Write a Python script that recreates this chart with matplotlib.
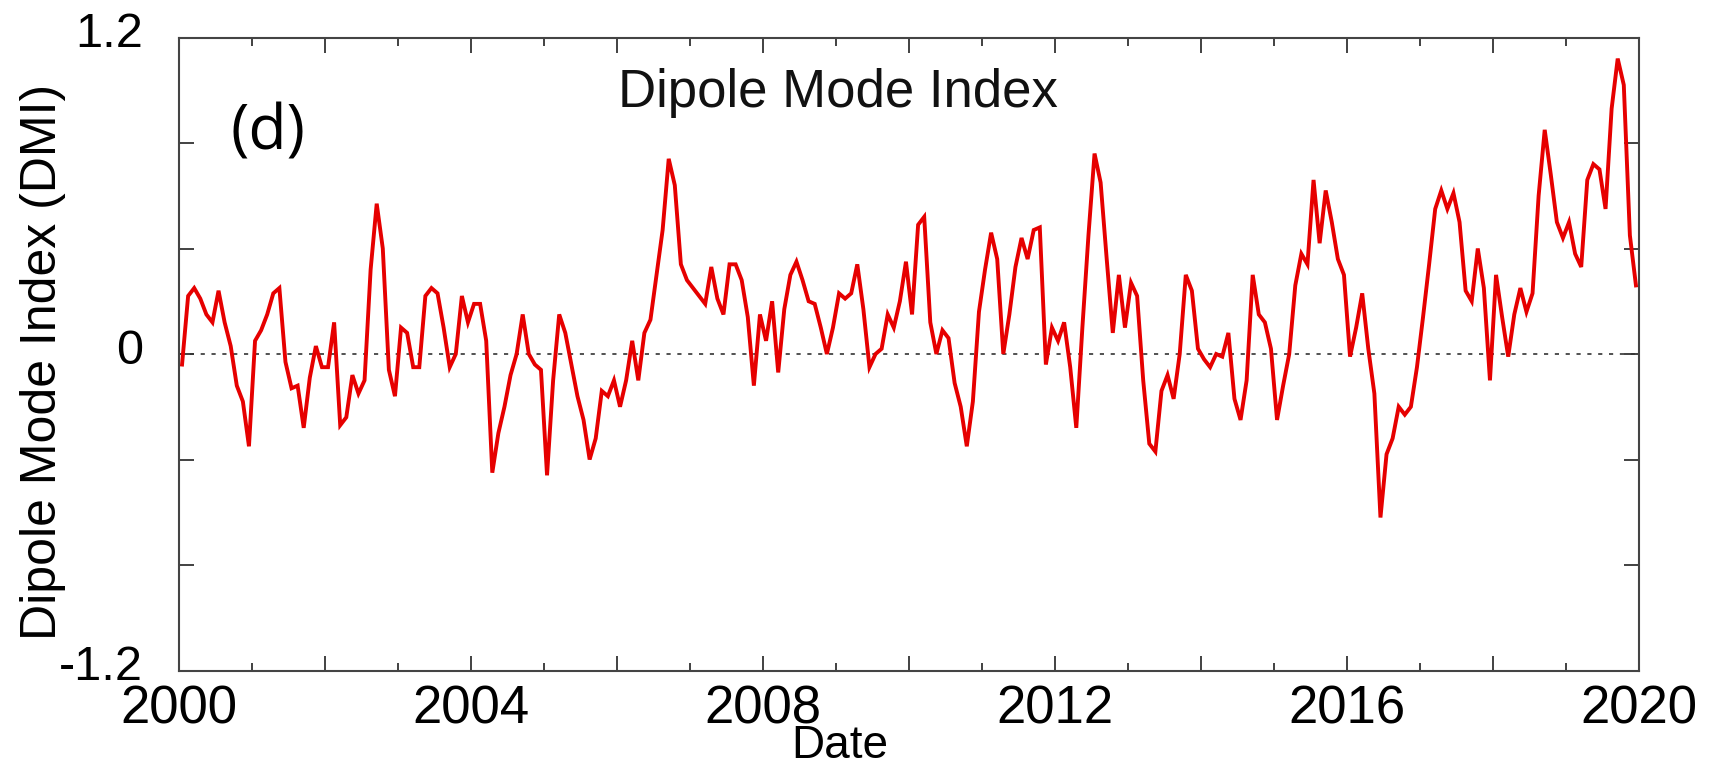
import numpy as np
import matplotlib
matplotlib.use("Agg")
import matplotlib.pyplot as plt
from matplotlib.ticker import FixedLocator
from matplotlib.transforms import ScaledTranslation

# Monthly Dipole Mode Index values, Jan 2000 - Dec 2019
dmi_2000 = [-0.04, 0.22, 0.25, 0.21, 0.15, 0.12, 0.24, 0.12, 0.03, -0.12, -0.18, -0.35]
dmi_2001 = [0.05, 0.09, 0.15, 0.23, 0.25, -0.03, -0.13, -0.12, -0.28, -0.09, 0.03, -0.05]
dmi_2002 = [-0.05, 0.12, -0.27, -0.24, -0.08, -0.15, -0.10, 0.32, 0.57, 0.40, -0.06, -0.16]
dmi_2003 = [0.10, 0.08, -0.05, -0.05, 0.22, 0.25, 0.23, 0.10, -0.05, 0.00, 0.22, 0.12]
dmi_2004 = [0.19, 0.19, 0.05, -0.45, -0.30, -0.20, -0.08, 0.00, 0.15, 0.00, -0.04, -0.06]
dmi_2005 = [-0.46, -0.10, 0.15, 0.08, -0.04, -0.16, -0.25, -0.40, -0.32, -0.14, -0.16, -0.10]
dmi_2006 = [-0.20, -0.10, 0.05, -0.10, 0.08, 0.13, 0.30, 0.47, 0.74, 0.64, 0.34, 0.28]
dmi_2007 = [0.25, 0.22, 0.19, 0.33, 0.21, 0.15, 0.34, 0.34, 0.28, 0.14, -0.12, 0.15]
dmi_2008 = [0.05, 0.20, -0.07, 0.17, 0.30, 0.35, 0.28, 0.20, 0.19, 0.10, 0.00, 0.10]
dmi_2009 = [0.23, 0.21, 0.23, 0.34, 0.17, -0.05, 0.00, 0.02, 0.15, 0.10, 0.20, 0.35]
dmi_2010 = [0.15, 0.49, 0.52, 0.12, 0.00, 0.09, 0.06, -0.11, -0.20, -0.35, -0.18, 0.16]
dmi_2011 = [0.32, 0.46, 0.36, 0.00, 0.15, 0.33, 0.44, 0.36, 0.47, 0.48, -0.04, 0.10]
dmi_2012 = [0.05, 0.12, -0.05, -0.28, 0.10, 0.45, 0.76, 0.65, 0.36, 0.08, 0.30, 0.10]
dmi_2013 = [0.27, 0.22, -0.10, -0.34, -0.37, -0.14, -0.08, -0.17, 0.00, 0.30, 0.24, 0.02]
dmi_2014 = [-0.02, -0.05, 0.00, -0.01, 0.08, -0.17, -0.25, -0.10, 0.30, 0.15, 0.12, 0.02]
dmi_2015 = [-0.25, -0.12, 0.00, 0.26, 0.38, 0.34, 0.66, 0.42, 0.62, 0.50, 0.36, 0.30]
dmi_2016 = [-0.01, 0.10, 0.23, 0.02, -0.15, -0.62, -0.38, -0.32, -0.20, -0.23, -0.20, -0.05]
dmi_2017 = [0.14, 0.34, 0.55, 0.62, 0.55, 0.61, 0.50, 0.24, 0.20, 0.40, 0.25, -0.10]
dmi_2018 = [0.30, 0.14, -0.01, 0.15, 0.25, 0.16, 0.23, 0.60, 0.85, 0.68, 0.50, 0.44]
dmi_2019 = [0.50, 0.38, 0.33, 0.66, 0.72, 0.70, 0.55, 0.93, 1.12, 1.02, 0.45, 0.26]

years = list(range(2000, 2020))
dmi = np.array(dmi_2000 + dmi_2001 + dmi_2002 + dmi_2003 + dmi_2004 + dmi_2005
               + dmi_2006 + dmi_2007 + dmi_2008 + dmi_2009 + dmi_2010 + dmi_2011
               + dmi_2012 + dmi_2013 + dmi_2014 + dmi_2015 + dmi_2016 + dmi_2017
               + dmi_2018 + dmi_2019)
dates = np.array([y + (m + 0.5) / 12.0 for y in years for m in range(12)])

ytick_values = [-1.2, -0.8, -0.4, 0.0, 0.4, 0.8, 1.2]
ytick_labels = ["-1.2", "", "", "0", "", "", "1.2"]
xmajor_values = list(range(2000, 2021, 2))
xmajor_labels = [str(v) if v % 4 == 0 else "" for v in xmajor_values]
xminor_values = list(range(2001, 2020, 2))

title_text = "Dipole Mode Index"
panel_text = "(d)"
ylabel_text = "Dipole Mode Index (DMI)"
xlabel_text = "Date"

plt.rcParams['font.family'] = ['Liberation Sans', 'DejaVu Sans']

fig = plt.figure(figsize=(17.14, 7.78), dpi=100)
ax = fig.add_axes([179/1714, 1 - 670.5/778, (1639-179)/1714, (670.5-37.5)/778])

ax.axhline(0, color="#333333", lw=1.2, linestyle=(0, (2.5, 4)), zorder=1)
ax.plot(dates, dmi, color="#e60000", lw=2.8, zorder=2, solid_joinstyle="miter")

ax.set_xlim(2000, 2020)
ax.set_ylim(-1.2, 1.2)

ax.set_yticks(ytick_values)
ax.set_yticklabels(ytick_labels)
ax.set_xticks(xmajor_values)
ax.set_xticklabels(xmajor_labels)
ax.xaxis.set_minor_locator(FixedLocator(xminor_values))

for s in ax.spines.values():
    s.set_color("#444444")
    s.set_linewidth(1.5)

ax.tick_params(axis="both", which="major", direction="in", length=11, width=1.3,
               color="#333333", top=True, right=True)
ax.tick_params(axis="x", which="minor", direction="in", length=6, width=1.3,
               color="#333333", top=True, bottom=True)
ax.tick_params(axis="x", which="major", labelsize=38, pad=10)
ax.tick_params(axis="y", which="major", labelsize=35, pad=26)

shift_up = ScaledTranslation(0, 8 / 100, fig.dpi_scale_trans)
for lab in ax.get_yticklabels():
    lab.set_transform(lab.get_transform() + shift_up)

ax.text(2009.03, 0.937, title_text, fontsize=38, ha="center", va="baseline",
        color="#111111")
ax.text(2000.70, 0.777, panel_text, fontsize=45, ha="left", va="baseline",
        family=["Open Sans", "DejaVu Sans"], color="black")

ax.set_ylabel(ylabel_text, fontsize=36)
ax.yaxis.set_label_coords(-0.0774, 0.487)
ax.set_xlabel(xlabel_text, fontsize=33)
ax.xaxis.set_label_coords(0.4527, -0.0845)

fig.savefig("out.png", dpi=100)
